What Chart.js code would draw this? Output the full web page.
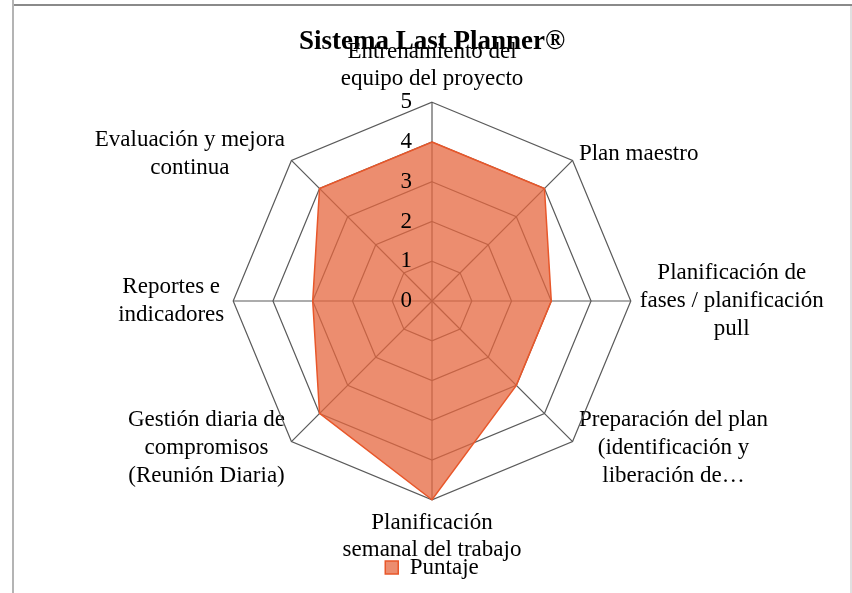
<!DOCTYPE html>
<html>
<head>
<meta charset="utf-8">
<script src="https://cdn.jsdelivr.net/npm/chart.js@4/dist/chart.umd.min.js"></script>
<style>
  html, body { margin: 0; padding: 0; background: #fff; }
  #wrap { position: relative; width: 852px; height: 593px; overflow: hidden; }
  #lineTop { position: absolute; left: 12px; top: 4px; width: 840px; height: 2px; background: #8a8a8a; }
  #lineLeft { position: absolute; left: 12px; top: 0; width: 2px; height: 593px; background: #b4b4b4; }
  #lineRight { position: absolute; left: 850px; top: 6px; width: 2px; height: 587px; background: #e0e0e0; }
  #box { position: absolute; left: 0; top: 0; width: 852px; height: 593px; }
</style>
</head>
<body>
<div id="wrap">
  <div id="box"><canvas id="radar"></canvas></div>
  <div id="lineTop"></div>
  <div id="lineLeft"></div>
  <div id="lineRight"></div>
</div>
<script>
const categories = [
    ['Entrenamiento del', 'equipo del proyecto'],
    'Plan maestro',
    ['Planificación de', 'fases / planificación', 'pull'],
    ['Preparación del plan', '(identificación y', 'liberación de…'],
    ['Planificación', 'semanal del trabajo'],
    ['Gestión diaria de', 'compromisos', '(Reunión Diaria)'],
    ['Reportes e', 'indicadores'],
    ['Evaluación y mejora', 'continua']
];
const puntaje = [4, 4, 3, 3, 5, 4, 3, 4];
const tickValues = [0, 1, 2, 3, 4, 5];

const serif = "'Liberation Serif', 'Times New Roman', serif";
const labelGap = 9;

// tick numbers sit left of the vertical axis, like the original
const tickLabelPlugin = {
    id: 'tickLabels',
    afterDatasetsDraw(chart) {
        const scale = chart.scales.r;
        const ctx = chart.ctx;
        ctx.save();
        ctx.font = '23px ' + serif;
        ctx.fillStyle = '#000';
        ctx.textAlign = 'right';
        ctx.textBaseline = 'middle';
        tickValues.forEach(v => {
            const d = scale.getDistanceFromCenterForValue(v);
            ctx.fillText(String(v), scale.xCenter - 20, scale.yCenter - d);
        });
        ctx.restore();
    }
};

// keep the web centred in its box, push labels a bit outwards,
// centre diagonal labels on their spoke and every line of a label (Excel style)
function centreRadar(scale) {
    const dx = Math.round((scale.left + scale.right) / 2 - scale.xCenter);
    scale.xCenter += dx;
    (scale._pointLabelItems || []).forEach((item, i) => {
        const a = scale.getIndexAngle(i) - Math.PI / 2;
        const ox = dx + labelGap * Math.cos(a);
        const oy = labelGap * Math.sin(a);
        item.left += ox;
        item.right += ox;
        item.top += oy;
        item.bottom += oy;
        item.y += oy;
        const deg = Math.round(scale.getIndexAngle(i) * 180 / Math.PI) % 360;
        if (deg % 90 !== 0) {
            const p = scale.getPointPosition(i, scale.drawingArea + labelGap);
            const h = item.bottom - item.top;
            item.top = p.y - h / 2;
            item.bottom = item.top + h;
            item.y = item.top;
        }
        item.x = (item.left + item.right) / 2;
        item.textAlign = 'center';
    });
}

const ctx = document.getElementById('radar').getContext('2d');
new Chart(ctx, {
    type: 'radar',
    data: {
        labels: categories,
        datasets: [{
            label: 'Puntaje',
            data: puntaje,
            backgroundColor: 'rgba(230, 103, 63, 0.75)',
            borderColor: '#e8572a',
            borderWidth: 1.5,
            pointRadius: 0,
            fill: true
        }]
    },
    options: {
        responsive: true,
        maintainAspectRatio: false,
        animation: false,
        layout: {
            padding: { left: 12, right: 0, top: 0, bottom: 4 }
        },
        scales: {
            r: {
                min: 0,
                max: 5,
                afterFit: centreRadar,
                ticks: { stepSize: 1, display: false },
                grid: { color: '#5a5a5a', lineWidth: 1.2 },
                angleLines: { color: '#5a5a5a', lineWidth: 1.2 },
                pointLabels: {
                    color: '#000',
                    padding: 0,
                    font: { family: serif, size: 23 }
                }
            }
        },
        plugins: {
            title: {
                display: true,
                text: 'Sistema Last Planner®',
                color: '#000',
                font: { family: serif, size: 27, weight: 'bold' },
                padding: { top: 26, bottom: -11.4 }
            },
            legend: {
                position: 'bottom',
                labels: {
                    color: '#000',
                    boxWidth: 13,
                    boxHeight: 13,
                    padding: 0,
                    font: { family: serif, size: 23 }
                }
            },
            tooltip: { enabled: false }
        }
    },
    plugins: [tickLabelPlugin]
});
</script>
</body>
</html>
